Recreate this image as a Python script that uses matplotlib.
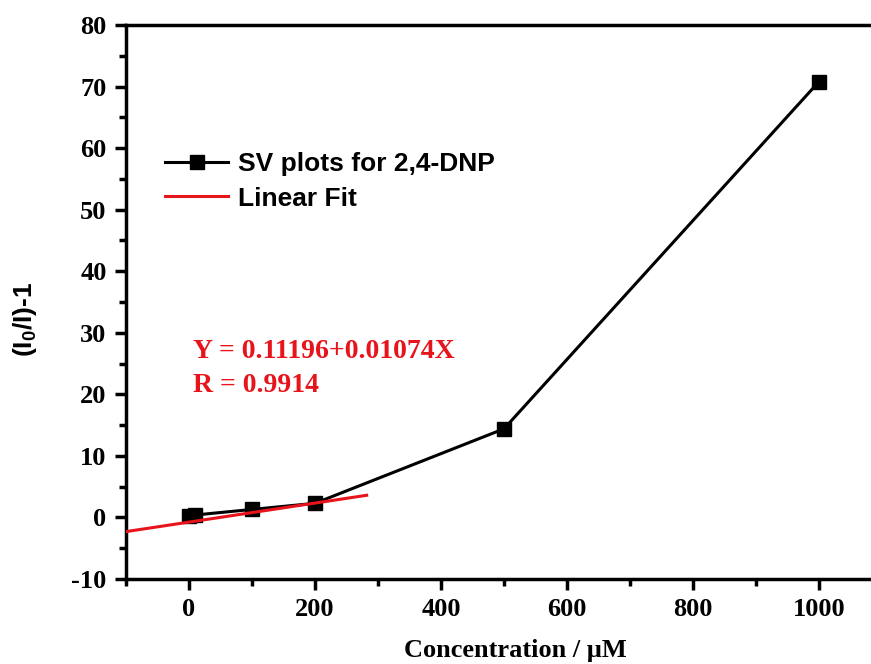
import matplotlib
matplotlib.use("Agg")
import matplotlib.pyplot as plt
from matplotlib.ticker import MultipleLocator

conc = [0, 10, 100, 200, 500, 1000]
response = [0.3, 0.4, 1.3, 2.3, 14.4, 70.8]
fit_x = [-100, 282]
fit_y = [-2.3, 3.6]
xticks = [0, 200, 400, 600, 800, 1000]
yticks = [-10, 0, 10, 20, 30, 40, 50, 60, 70, 80]

plt.rcParams['axes.unicode_minus'] = False
plt.rcParams['mathtext.fontset'] = 'custom'
plt.rcParams['mathtext.rm'] = 'Liberation Sans:bold'
plt.rcParams['mathtext.it'] = 'Liberation Sans:bold'
plt.rcParams['mathtext.bf'] = 'Liberation Sans:bold'

W, H = 871, 664
fig = plt.figure(figsize=(W/100, H/100), dpi=100)
ax = fig.add_axes([126/W, 1-579/H, (882-126)/W, (579-25)/H])

ax.plot(conc, response, color='black', lw=2.2, marker='s', ms=9.5,
        label='SV plots for 2,4-DNP', zorder=3)
ax.plot(fit_x, fit_y, color='#e8141c', lw=2.2, label='Linear Fit', zorder=4)

ax.set_xlim(-100, 1100)
ax.set_ylim(-10, 80)
ax.set_xticks(xticks)
ax.set_yticks(yticks)
ax.xaxis.set_minor_locator(MultipleLocator(100))
ax.yaxis.set_minor_locator(MultipleLocator(5))
for s in ax.spines.values():
    s.set_linewidth(2.5)
ax.tick_params(which='major', direction='out', length=8, width=2.5, pad=6)
ax.tick_params(which='minor', direction='out', length=5, width=2.5)
ax.tick_params(axis='both', which='both', top=False, right=False)
for lab in ax.get_xticklabels() + ax.get_yticklabels():
    lab.set_fontfamily('Liberation Serif')
    lab.set_fontweight('bold')
    lab.set_fontsize(19)

fig.text(515/W, 1-650/H, 'Concentration / μM', fontfamily='Liberation Serif',
         fontweight='bold', fontsize=19, ha='center', va='center')
fig.text(25/W, 1-319/H, r'(I$_\mathrm{0}$/I)-1', fontfamily='Liberation Sans',
         fontweight='bold', fontsize=19, rotation=90, ha='center', va='center')

fig.text(193/W, 1-352/H, 'Y = 0.11196+0.01074X',
         color='#e8141c', fontfamily='Liberation Serif', fontweight='bold',
         fontsize=20, va='center', ha='left')
fig.text(193/W, 1-386/H, 'R = 0.9914',
         color='#e8141c', fontfamily='Liberation Serif', fontweight='bold',
         fontsize=20, va='center', ha='left')

leg = ax.legend(loc='upper left', bbox_to_anchor=((165-126)/(882-126), 1-(152-25)/(579-25)),
                frameon=False, prop={'family': 'Liberation Sans', 'weight': 'bold', 'size': 19},
                handlelength=2.4, handletextpad=0.35, labelspacing=0.4, borderpad=0,
                borderaxespad=0)

fig.savefig('out.png', dpi=100)
